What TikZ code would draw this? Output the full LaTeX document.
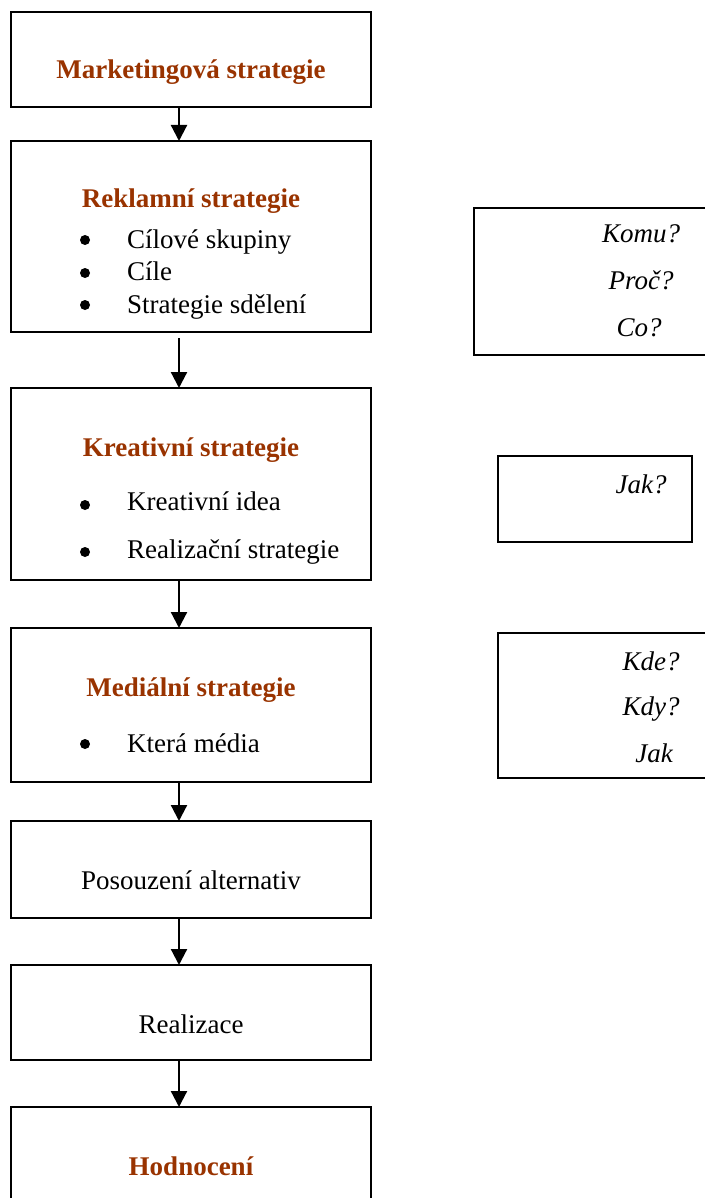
\documentclass[tikz,border=0pt]{standalone}
\usepackage{fontspec}
\setmainfont{Liberation Serif}
\usetikzlibrary{arrows.meta}
\definecolor{titlebrown}{RGB}{153, 51, 0}

\begin{document}
\begin{tikzpicture}[x=1pt,y=-1pt,
    box/.style={draw,line width=1.8pt,inner sep=0pt,outer sep=0pt},
    title/.style={anchor=base,font=\fontsize{27}{32}\selectfont\bfseries,text=titlebrown,inner sep=0pt},
    item/.style={anchor=base west,font=\fontsize{27}{32}\selectfont,inner sep=0pt},
    plain/.style={anchor=base,font=\fontsize{27}{32}\selectfont,inner sep=0pt},
    ask/.style={anchor=base,font=\fontsize{27}{32}\selectfont\itshape,inner sep=0pt},
    dot/.style={circle,fill,inner sep=0pt,minimum size=10pt},
    arr/.style={-{Triangle[length=16pt,width=16pt]},line width=2.2pt}]

\useasboundingbox (0,0) rectangle (704,1198);

% Main chain
\node[box,minimum width=360pt,minimum height=95pt] (mark) at (191,59.5) {};
\node[box,minimum width=360pt,minimum height=191pt] (rekl) at (191,236.5) {};
\node[box,minimum width=360pt,minimum height=192pt] (krea) at (191,484) {};
\node[box,minimum width=360pt,minimum height=154pt] (medi) at (191,705) {};
\node[box,minimum width=360pt,minimum height=97pt] (poso) at (191,869.5) {};
\node[box,minimum width=360pt,minimum height=95pt] (real) at (191,1012.5) {};
\node[box,minimum width=360pt,minimum height=95pt] (hodn) at (191,1154.5) {};

% Texts of the chain
\node[title] (markt) at (191,79) {Marketingová strategie};
\node[title] (reklt) at (191,208) {Reklamní strategie};
\node[dot] (rekld1) at (85,240) {};
\node[item] (rekli1) at (127,248) {Cílové skupiny};
\node[dot] (rekld2) at (85,273) {};
\node[item] (rekli2) at (127,280) {Cíle};
\node[dot] (rekld3) at (85,305) {};
\node[item] (rekli3) at (127,313) {Strategie sdělení};
\node[title] (kreat) at (191,456) {Kreativní strategie};
\node[dot] (kread1) at (85,505) {};
\node[item] (kreai1) at (127,510) {Kreativní idea};
\node[dot] (kread2) at (85,552) {};
\node[item] (kreai2) at (127,558) {Realizační strategie};
\node[title] (medit) at (191,696) {Mediální strategie};
\node[dot] (medid1) at (85,744) {};
\node[item] (medii1) at (127,752) {Která média};
\node[plain] (posot) at (191,889) {Posouzení alternativ};
\node[plain] (realt) at (191,1033) {Realizace};
\node[title] (hodnt) at (191,1175) {Hodnocení};

% Questions
\node[box,minimum width=246pt,minimum height=147pt] (komu) at (597,281.5) {};
\node[ask] (komu1) at (641,243) {Komu?};
\node[ask] (komu2) at (641,289) {Proč?};
\node[ask] (komu3) at (639,336) {Co?};
\node[box,minimum width=194pt,minimum height=86pt] (jak) at (595,499) {};
\node[ask] (jak1) at (641,493) {Jak?};
\node[box,minimum width=222pt,minimum height=145pt] (kde) at (609,705.5) {};
\node[ask] (kde1) at (651,670) {Kde?};
\node[ask] (kde2) at (651,715) {Kdy?};
\node[ask] (kde3) at (654,762) {Jak};

% Connections
\draw[arr] ([xshift=-12pt]mark.south) -- ([xshift=-12pt]rekl.north);
\draw[arr] ([xshift=-12pt,yshift=-6pt]rekl.south) -- ([xshift=-12pt]krea.north);
\draw[arr] ([xshift=-12pt]krea.south) -- ([xshift=-12pt]medi.north);
\draw[arr] ([xshift=-12pt]medi.south) -- ([xshift=-12pt]poso.north);
\draw[arr] ([xshift=-12pt]poso.south) -- ([xshift=-12pt]real.north);
\draw[arr] ([xshift=-12pt]real.south) -- ([xshift=-12pt]hodn.north);
\end{tikzpicture}
\end{document}
